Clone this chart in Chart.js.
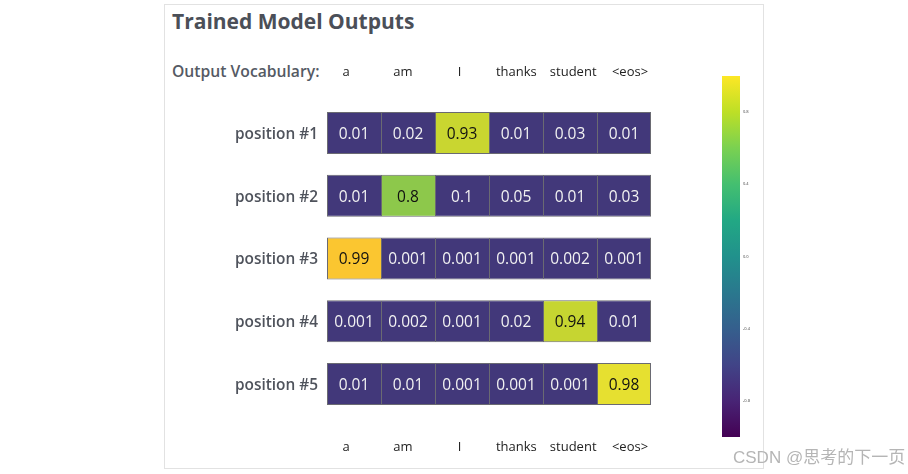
<!DOCTYPE html>
<html><head><meta charset="utf-8">
<script src="https://cdn.jsdelivr.net/npm/chart.js@4/dist/chart.umd.min.js"></script>
<style>
html,body{margin:0;padding:0;background:#fff;width:908px;height:474px;overflow:hidden;position:relative;font-family:"Open Sans",sans-serif}
#frame{position:absolute;left:164px;top:4px;width:600px;height:465px;border:1px solid #e2e2e2;box-sizing:border-box}
#title{position:absolute;left:172px;top:7px;font:700 21px "Open Sans";color:#4b4f58;line-height:28px;white-space:nowrap}
#vocabLabel{position:absolute;left:172px;top:60px;font:600 15.7px "Open Sans";color:#555a64;line-height:22px;white-space:nowrap}
#wm{position:absolute;left:733px;top:448px;font:17px "Liberation Sans","Noto Sans CJK SC",sans-serif;color:#b5b5b5;line-height:20px;white-space:nowrap}
canvas{position:absolute}
#main{left:0;top:0}
#cbar{left:700px;top:60px}
</style></head>
<body>
<div id="frame"></div>
<div id="title">Trained Model Outputs</div>
<div id="vocabLabel">Output Vocabulary:</div>
<canvas id="main" width="908" height="474"></canvas>
<canvas id="cbar" width="80" height="400"></canvas>
<div id="wm">CSDN @思考的下一页</div>
<script>
// ---- data ----
const vocab = ["a", "am", "I", "thanks", "student", "<eos>"];
const positions = ["position #1", "position #2", "position #3", "position #4", "position #5"];
const row1 = [0.01, 0.02, 0.93, 0.01, 0.03, 0.01];
const row2 = [0.01, 0.8, 0.1, 0.05, 0.01, 0.03];
const row3 = [0.99, 0.001, 0.001, 0.001, 0.002, 0.001];
const row4 = [0.001, 0.002, 0.001, 0.02, 0.94, 0.01];
const row5 = [0.01, 0.01, 0.001, 0.001, 0.001, 0.98];
const colorbarTicks = [-0.8, -0.4, 0.0, 0.4, 0.8];
const colorbarRange = [-1, 1];

const rows = [row1, row2, row3, row4, row5];

// ---- styles ----
function cellColor(v) {
  if (v >= 0.99) return '#fbc630';
  if (v >= 0.98) return '#e6e030';
  if (v >= 0.935) return '#c6d531';
  if (v >= 0.9) return '#c9d630';
  if (v >= 0.7) return '#8dc84b';
  return '#42387a';
}
const viridis = ['#440154','#482475','#414487','#355f8d','#2a788e','#21918c','#22a884','#44bf70','#7ad151','#bddf26','#fde725'];

// heatmap: one stacked dataset per vocabulary column, one cell per position
const datasets = vocab.map((w, j) => ({
  label: w,
  data: positions.map(() => 1),
  values: rows.map(r => r[j]),
  backgroundColor: rows.map(r => cellColor(r[j])),
  borderColor: '#6a6a72',
  borderWidth: j === vocab.length - 1 ? 1 : {top: 1, bottom: 1, left: 1, right: 0},
  borderSkipped: false,
  barPercentage: 1,
  categoryPercentage: 0.67
}));

const cellText = {
  id: 'cellText',
  afterDatasetsDraw(chart) {
    const ctx = chart.ctx;
    ctx.save();
    ctx.font = '15.5px "Open Sans"';
    ctx.textAlign = 'center';
    ctx.textBaseline = 'middle';
    chart.data.datasets.forEach((ds, di) => {
      chart.getDatasetMeta(di).data.forEach((el, i) => {
        const v = ds.values[i];
        const p = el.getCenterPoint();
        ctx.fillStyle = v >= 0.5 ? '#111' : '#f2f2f2';
        ctx.fillText(String(v), p.x, p.y + 1.5);
      });
    });
    ctx.restore();
  }
};

const labelAxis = (pos) => ({
  type: 'linear',
  position: pos,
  min: -0.3345,
  max: 5.37,
  afterBuildTicks: s => { s.ticks = vocab.map((_, i) => ({value: i})); },
  afterFit: s => { s.height = 40; },
  ticks: {
    autoSkip: false, maxRotation: 0, padding: pos === 'top' ? 21.5 : 24,
    font: {family: 'Open Sans', size: 13}, color: '#222',
    callback: (v, i) => vocab[i]
  },
  grid: {display: false, drawTicks: false},
  border: {display: false}
});

new Chart(document.getElementById('main'), {
  type: 'bar',
  data: {labels: positions, datasets},
  options: {
    indexAxis: 'y',
    responsive: false,
    animation: false,
    layout: {padding: {left: 227, right: 257, top: 61.6, bottom: 18.6}},
    plugins: {legend: {display: false}, tooltip: {enabled: false}},
    scales: {
      x: {stacked: true, min: 0, max: vocab.length, display: false},
      y: {
        stacked: true,
        afterFit: s => { s.width = 100; },
        ticks: {padding: 9, labelOffset: 1.5, font: {family: 'Open Sans', size: 15.4, weight: 600}, color: '#4f535c'},
        grid: {display: false, drawTicks: false},
        border: {display: false}
      },
      xTop: labelAxis('top'),
      xBottom: labelAxis('bottom')
    }
  },
  plugins: [cellText]
});

// colorbar
new Chart(document.getElementById('cbar'), {
  type: 'bar',
  data: {labels: [''], datasets: [{
    data: [colorbarRange],
    borderWidth: 0,
    barPercentage: 1,
    categoryPercentage: 1,
    backgroundColor: (c) => {
      const {ctx, chartArea} = c.chart;
      if (!chartArea) return viridis[5];
      const g = ctx.createLinearGradient(0, chartArea.bottom, 0, chartArea.top);
      viridis.forEach((col, i) => g.addColorStop(i / (viridis.length - 1), col));
      return g;
    }
  }]},
  options: {
    responsive: false,
    animation: false,
    layout: {padding: {left: 22, right: 0, top: 16, bottom: 23}},
    plugins: {legend: {display: false}, tooltip: {enabled: false}},
    scales: {
      x: {display: false},
      y: {
        position: 'right',
        min: colorbarRange[0], max: colorbarRange[1],
        afterBuildTicks: s => { s.ticks = colorbarTicks.map(v => ({value: v})); },
        afterFit: s => { s.width = 40; },
        ticks: {padding: 3, font: {family: 'Open Sans', size: 4}, color: '#444', callback: v => v.toFixed(1)},
        grid: {display: false, drawTicks: false},
        border: {display: false}
      }
    }
  }
});
</script>
</body></html>
